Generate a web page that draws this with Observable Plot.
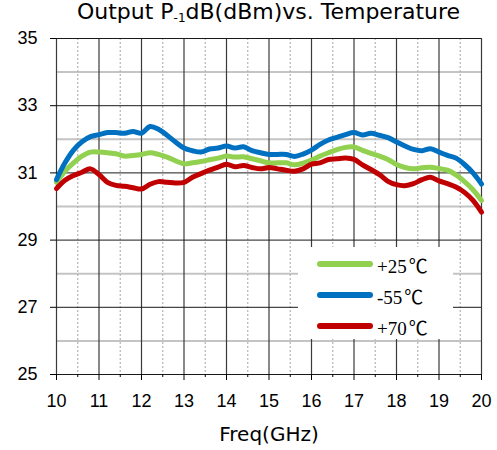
<!DOCTYPE html>
<html>
<head>
<meta charset="utf-8">
<script src="https://cdn.jsdelivr.net/npm/d3@7"></script>
<script src="https://cdn.jsdelivr.net/npm/@observablehq/plot@0.6"></script>
<style>
  html, body { margin: 0; padding: 0; background: #fff; }
  #wrap { position: relative; width: 497px; height: 450px; }
  #title { position: absolute; left: 0; top: 0; width: 497px; height: 28px; text-align: center;
           font-family: "DejaVu Sans", sans-serif; font-size: 22px; color: #000; line-height: 24px;
           padding-left: 40px; box-sizing: border-box; white-space: nowrap; }
  #title sub { font-size: 12px; vertical-align: -3px; line-height: 0; }
  #chart { position: absolute; left: 0; top: 28px; }
  #legend { position: absolute; left: 298px; top: 247px; width: 155px; height: 92px; background: #fff; }
  .item { position: absolute; left: 19px; height: 20px; display: flex; align-items: center; }
  .sw { width: 56px; height: 6px; border-radius: 3px; margin-right: 4px; }
  .lab { font-family: "Liberation Serif", "Times New Roman", serif; font-size: 19px; color: #000; white-space: nowrap; }
  .deg { font-family: "Noto Sans CJK SC", sans-serif; font-size: 19px; margin-left: 2px; }
</style>
</head>
<body>
<div id="wrap">
  <div id="title">Output P<sub>-1</sub>dB(dBm)vs. Temperature</div>
  <div id="chart"></div>
  <div id="legend"></div>
</div>
<script>
const freq = [10.0,10.2,10.4,10.6,10.8,11.0,11.2,11.4,11.6,11.8,12.0,12.2,12.4,12.6,12.8,13.0,13.2,13.4,13.6,13.8,14.0,14.2,14.4,14.6,14.8,15.0,15.2,15.4,15.6,15.8,16.0,16.2,16.4,16.6,16.8,17.0,17.2,17.4,17.6,17.8,18.0,18.2,18.4,18.6,18.8,19.0,19.2,19.4,19.6,19.8,20.0];

const p25 = [30.72,31.05,31.30,31.50,31.62,31.62,31.60,31.57,31.50,31.52,31.55,31.60,31.55,31.47,31.36,31.27,31.30,31.34,31.39,31.44,31.50,31.47,31.48,31.42,31.36,31.30,31.30,31.30,31.24,31.29,31.38,31.50,31.60,31.69,31.76,31.77,31.67,31.58,31.50,31.40,31.25,31.16,31.12,31.15,31.17,31.13,31.08,30.94,30.74,30.50,30.18];

const m55 = [30.80,31.30,31.68,31.93,32.08,32.14,32.20,32.20,32.18,32.23,32.18,32.38,32.30,32.12,31.92,31.74,31.66,31.62,31.71,31.74,31.80,31.74,31.78,31.66,31.60,31.55,31.55,31.55,31.49,31.56,31.68,31.85,31.98,32.06,32.14,32.20,32.13,32.18,32.12,32.05,31.92,31.80,31.70,31.66,31.72,31.62,31.52,31.44,31.25,31.00,30.67];

const p70 = [30.53,30.78,30.92,31.02,31.12,30.95,30.72,30.63,30.60,30.56,30.52,30.66,30.74,30.72,30.70,30.72,30.87,30.98,31.08,31.17,31.26,31.18,31.22,31.16,31.12,31.16,31.12,31.08,31.05,31.12,31.26,31.30,31.40,31.42,31.44,31.40,31.24,31.10,30.95,30.75,30.65,30.62,30.68,30.80,30.87,30.76,30.68,30.58,30.42,30.18,29.83];

const seriesNames = ["+25℃", "-55℃", "+70℃"];
const seriesColors = ["#92D050", "#0070C0", "#C00000"];
const xTicks = [10,11,12,13,14,15,16,17,18,19,20];
const xMinorTicks = [10.5,11.5,12.5,13.5,14.5,15.5,16.5,17.5,18.5,19.5];
const yTicks = [25,27,29,31,33,35];
const yMinorTicks = [26,28,30,32,34];
const xLabel = "Freq(GHz)";

const seriesValues = [p25, m55, p70];
const rows = [];
seriesNames.forEach((name, i) => {
  freq.forEach((f, j) => rows.push({series: name, freq: f, value: seriesValues[i][j]}));
});

const plot = Plot.plot({
  width: 497,
  height: 422,
  marginLeft: 56,
  marginRight: 16,
  marginTop: 10,
  marginBottom: 76,
  x: {domain: [10, 20]},
  y: {domain: [25, 35]},
  color: {domain: seriesNames, range: seriesColors},
  style: {background: "#fff"},
  marks: [
    Plot.ruleY(yMinorTicks, {stroke: "#c4c4c4", strokeWidth: 2}),
    Plot.ruleX(xMinorTicks, {stroke: "#b4b4b4", strokeDasharray: "2,2", strokeWidth: 1.2}),
    Plot.ruleX(xTicks, {stroke: "#3a3a3a", strokeWidth: 1.2}),
    Plot.ruleY(yTicks, {stroke: "#1a1a1a", strokeWidth: 1}),
    Plot.axisX({ticks: xTicks, tickFormat: d => String(d), tickSize: 6, tickPadding: 14,
      fontSize: 18, fontFamily: "Liberation Sans, Arial, sans-serif", label: null, stroke: "#000"}),
    Plot.axisX({ticks: xMinorTicks, tickFormat: () => "", tickSize: 3, label: null, stroke: "#000"}),
    Plot.axisY({ticks: yTicks, tickFormat: d => String(d), tickSize: 6, tickPadding: 13,
      fontSize: 18, fontFamily: "Liberation Sans, Arial, sans-serif", label: null, stroke: "#000"}),
    Plot.line(rows, {x: "freq", y: "value", z: "series", stroke: "series", strokeWidth: 5,
      strokeLinejoin: "round", strokeLinecap: "round", curve: "catmull-rom"}),
    Plot.text([xLabel], {frameAnchor: "bottom", dy: 66, fontSize: 20,
      fontFamily: "DejaVu Sans, sans-serif", fill: "#000"})
  ]
});
document.getElementById("chart").appendChild(plot);

const legend = document.getElementById("legend");
const tops = [7, 38, 69];
seriesNames.forEach((name, i) => {
  const it = document.createElement("div");
  it.className = "item";
  it.style.top = tops[i] + "px";
  const sw = document.createElement("div");
  sw.className = "sw";
  sw.style.background = seriesColors[i];
  const lab = document.createElement("span");
  lab.className = "lab";
  lab.textContent = name.slice(0, -1);
  const deg = document.createElement("span");
  deg.className = "deg";
  deg.textContent = name.slice(-1);
  lab.appendChild(deg);
  it.appendChild(sw); it.appendChild(lab);
  legend.appendChild(it);
});
</script>
</body>
</html>
